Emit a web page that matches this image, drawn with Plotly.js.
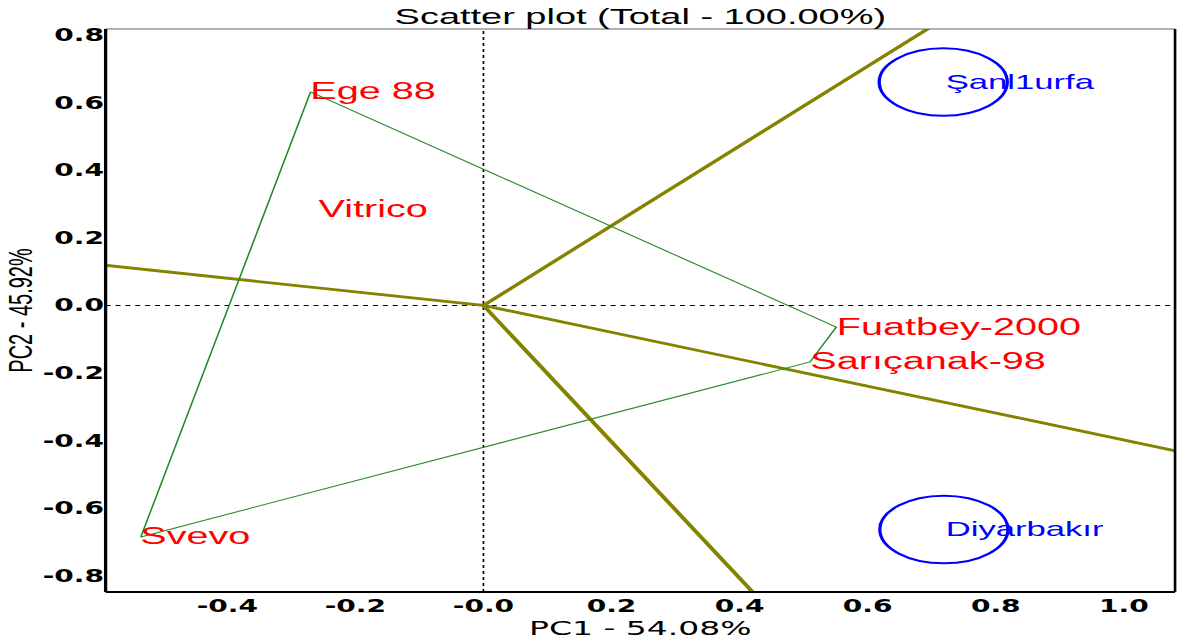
<!DOCTYPE html>
<html>
<head>
<meta charset="utf-8">
<script src="https://cdn.plot.ly/plotly-3.0.1.min.js"></script>
<style>
html,body{margin:0;padding:0;background:#fff;overflow:hidden;}
#plot{width:715px;height:643px;transform-origin:0 0;}
</style>
</head>
<body>
<div id="plot"></div>
<script>
// ---- data ----
const genotypes = ["Ege 88", "Vitrico", "Fuatbey-2000", "Sarıçanak-98", "Svevo"];
const genoPC1 = [-0.270, -0.257, 0.551, 0.510, -0.535];
const genoPC2 = [0.632, 0.283, -0.064, -0.167, -0.685];
const hullOrder = [0, 2, 3, 4, 0];
const environments = ["Şanl1urfa", "Diyarbakır"];
const envPC1 = [0.718, 0.719];
const envPC2 = [0.661, -0.663];
const envRadius = 0.1;
const xTickVals = [-0.4, -0.2, 0, 0.2, 0.4, 0.6, 0.8, 1.0];
const xTickText = ["-0.4", "-0.2", "-0.0", "0.2", "0.4", "0.6", "0.8", "1.0"];
const yTickVals = [-0.8, -0.6, -0.4, -0.2, 0, 0.2, 0.4, 0.6, 0.8];
const yTickText = ["-0.8", "-0.6", "-0.4", "-0.2", "0.0", "0.2", "0.4", "0.6", "0.8"];
const xRange = [-0.590, 1.080];
const yRange = [-0.848, 0.818];

// horizontal stretch of the original picture
const W = 715, H = 643;
const S = 1180 / W;
document.getElementById('plot').style.transform = 'scaleX(' + S + ')';

// hull polygon
const hullX = hullOrder.map(i => genoPC1[i]);
const hullY = hullOrder.map(i => genoPC2[i]);

// rays perpendicular to hull sides, from origin
const rayX = [], rayY = [];
for (let k = 0; k < hullOrder.length - 1; k++) {
  const a = hullOrder[k], b = hullOrder[k + 1];
  const ax = genoPC1[a], ay = genoPC2[a];
  const dx = genoPC1[b] - ax, dy = genoPC2[b] - ay;
  const t = -(ax * dx + ay * dy) / (dx * dx + dy * dy);
  const px = ax + t * dx, py = ay + t * dy;
  const len = Math.sqrt(px * px + py * py);
  const f = 5 / len;
  rayX.push(0, px * f, null);
  rayY.push(0, py * f, null);
}

const traces = [
  {x: rayX, y: rayY, mode: 'lines', type: 'scatter',
   line: {color: '#838300', width: 2.8}, hoverinfo: 'skip', showlegend: false},
  {x: hullX, y: hullY, mode: 'lines', type: 'scatter',
   line: {color: '#2a8a2a', width: 1}, hoverinfo: 'skip', showlegend: false}
];

const shapes = [
  {type: 'line', xref: 'x', yref: 'paper', x0: 0, x1: 0, y0: 0, y1: 1, layer: 'below',
   line: {color: '#000', width: 1, dash: 'dot'}},
  {type: 'line', xref: 'paper', yref: 'y', x0: 0, x1: 1, y0: 0, y1: 0, layer: 'below',
   line: {color: '#000', width: 1, dash: 'dot'}}
];
environments.forEach((e, i) => {
  shapes.push({type: 'circle', xref: 'x', yref: 'y',
    x0: envPC1[i] - envRadius, x1: envPC1[i] + envRadius,
    y0: envPC2[i] - envRadius, y1: envPC2[i] + envRadius,
    line: {color: '#0000ff', width: 2}});
});
// frame
shapes.push({type: 'line', xref: 'paper', yref: 'paper', x0: 0, x1: 1, y0: 1, y1: 1, line: {color: '#666', width: 1}});
shapes.push({type: 'line', xref: 'paper', yref: 'paper', x0: 0, x1: 0, y0: 0, y1: 1, line: {color: '#000', width: 2}});
shapes.push({type: 'line', xref: 'paper', yref: 'paper', x0: 0, x1: 1, y0: 0, y1: 0, line: {color: '#000', width: 2}});
shapes.push({type: 'line', xref: 'paper', yref: 'paper', x0: 1, x1: 1, y0: 0, y1: 1, line: {color: '#000', width: 1.6}});

const annotations = [];
genotypes.forEach((g, i) => {
  annotations.push({x: genoPC1[i], y: genoPC2[i], text: g, showarrow: false,
    xanchor: 'left', yanchor: 'middle', xshift: -2, yshift: 1,
    font: {family: 'Liberation Sans, Arial, sans-serif', size: 24, color: '#ff0000'}});
});
environments.forEach((e, i) => {
  annotations.push({x: envPC1[i], y: envPC2[i], text: e, showarrow: false,
    xanchor: 'left', yanchor: 'middle', xshift: -1, yshift: 1,
    font: {family: 'Liberation Sans, Arial, sans-serif', size: 21, color: '#0000ff'}});
});

const tickFont = {family: 'DejaVu Sans, sans-serif', size: 17, color: '#000', weight: 'bold'};

const layout = {
  width: W, height: H, autosize: false,
  margin: {l: 63.6, r: 3, t: 29, b: 51, pad: 0},
  paper_bgcolor: '#fff', plot_bgcolor: '#fff',
  showlegend: false,
  title: {text: 'Scatter plot (Total - 100.00%)', x: 0.5, xref: 'paper', xanchor: 'center',
          y: 1 - 16 / H, yref: 'container', yanchor: 'middle',
          font: {family: 'Liberation Sans, Arial, sans-serif', size: 23, color: '#000'}},
  xaxis: {range: xRange, tickvals: xTickVals, ticktext: xTickText, tickfont: tickFont,
          showgrid: false, zeroline: false, showline: false, ticks: '', ticklabelstandoff: 2,
          title: {text: 'PC1 - 54.08%', standoff: 0,
                  font: {family: 'DejaVu Sans, sans-serif', size: 20, color: '#000'}}},
  yaxis: {range: yRange, tickvals: yTickVals, ticktext: yTickText, tickfont: tickFont,
          showgrid: false, zeroline: false, showline: false, ticks: '',
          title: {text: 'PC2 - 45.92%', standoff: 0,
                  font: {family: 'Liberation Sans, Arial, sans-serif', size: 20, color: '#000'}}},
  shapes: shapes,
  annotations: annotations
};

Plotly.newPlot('plot', traces, layout, {staticPlot: true, displayModeBar: false});
</script>
</body>
</html>
